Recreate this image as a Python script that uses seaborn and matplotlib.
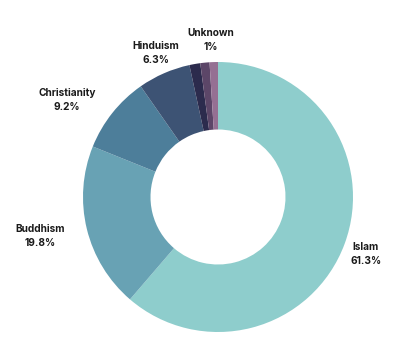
import matplotlib
matplotlib.use("Agg")
import matplotlib.pyplot as plt
import seaborn as sns

categories = ["Islam", "Buddhism", "Christianity", "Hinduism", "Other A", "Other B", "Unknown"]
values = [61.3, 19.8, 9.2, 6.3, 1.3, 1.1, 1.0]
label_names = ["Islam", "Buddhism", "Christianity", "Hinduism", None, None, "Unknown"]
label_values = ["61.3%", "19.8%", "9.2%", "6.3%", None, None, "1%"]
colors = ["#8ecdcc", "#68a2b4", "#4d7e9a", "#3d5374", "#2c2b4d", "#5c4668", "#957093"]

sns.set_theme(style="white")
plt.rcParams['font.family'] = ['Inter', 'DejaVu Sans']

W, H = 399, 357
fig = plt.figure(figsize=(W / 100, H / 100), dpi=100)
cx, cy, R = 218, 197, 135
ax = fig.add_axes([(cx - R) / W, (H - cy - R) / H, 2 * R / W, 2 * R / H])

ax.pie(values, colors=colors, startangle=90, counterclock=False,
       radius=1.0, wedgeprops=dict(width=0.5, linewidth=0))
ax.set_xlim(-1, 1)
ax.set_ylim(-1, 1)
ax.set_aspect("equal")
ax.axis("off")

# label anchor positions in pixels (layout only)
label_px = {
    "Islam": (366, 254),
    "Buddhism": (40, 236),
    "Christianity": (67, 100),
    "Hinduism": (156, 53),
    "Unknown": (211, 40),
}
for name, val in zip(label_names, label_values):
    if name is None:
        continue
    px, py = label_px[name]
    x = (px - cx) / R
    y = (cy - py) / R
    ax.text(x, y, f"{name}\n{val}", ha="center", va="center",
            fontsize=7.3, fontweight="bold", color="#1a1a1a",
            linespacing=1.45, clip_on=False)

fig.savefig("out.png", dpi=100, facecolor="white")
